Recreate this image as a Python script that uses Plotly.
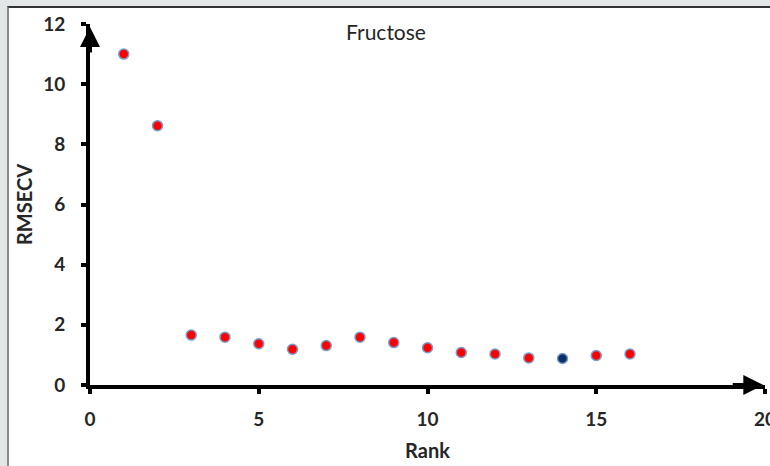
import plotly.graph_objects as go

rank = list(range(1, 17))
rmsecv = [11.0, 8.62, 1.66, 1.59, 1.37, 1.19, 1.31, 1.59, 1.41, 1.24, 1.08, 1.03, 0.90, 0.88, 0.98, 1.03]
selected_rank = 14

title_text = "Fructose"
x_title = "Rank"
y_title = "RMSECV"
x_ticks = [0, 5, 10, 15, 20]
y_ticks = [0, 2, 4, 6, 8, 10, 12]

colors = ["#0b2f6b" if r == selected_rank else "#ff0000" for r in rank]

fig = go.Figure()
fig.add_trace(go.Scatter(
    x=rank, y=rmsecv, mode="markers",
    marker=dict(size=10, color=colors, line=dict(color="#7a9ccc", width=1.5)),
    showlegend=False, cliponaxis=False,
))

font_fam = "Lato, Open Sans, sans-serif"
txt = "#262626"

# figure is placed at page offset (9, 8) by the frame border (see post_script)
OX, OY = 9, 8
W, H = 770 - OX, 466 - OY

fig.update_layout(
    width=W, height=H,
    margin=dict(l=90 - OX, r=5, t=24 - OY, b=81),
    paper_bgcolor="white", plot_bgcolor="white",
    title=dict(text=title_text, x=(386 - OX) / W, xanchor="center", xref="container",
               y=1 - (33 - OY) / H, yanchor="middle", yref="container",
               font=dict(family=font_fam, size=21, color=txt)),
    xaxis=dict(range=[0, 20], tickvals=x_ticks, showgrid=False, zeroline=False,
               showline=True, linecolor="black", linewidth=4, automargin=False,
               ticks="outside", ticklen=5, tickwidth=4, tickcolor="black",
               ticklabelstandoff=9, ticklabeloverflow="allow",
               tickfont=dict(family=font_fam, size=19, color=txt, weight="bold"),
               title=dict(text=x_title, standoff=16,
                          font=dict(family=font_fam, size=20, color=txt, weight="bold"))),
    yaxis=dict(range=[0, 12], tickvals=y_ticks, showgrid=False, zeroline=False,
               showline=True, linecolor="black", linewidth=4, automargin=False,
               ticks="outside", ticklen=5, tickwidth=4, tickcolor="black",
               ticklabelstandoff=12, ticklabeloverflow="allow",
               tickfont=dict(family=font_fam, size=19, color=txt, weight="bold"),
               title=dict(text=y_title, standoff=6,
                          font=dict(family=font_fam, size=20, color=txt, weight="bold"))),
)

# arrowheads
fig.add_annotation(x=19.95, y=0, ax=19.0, ay=0, xref="x", yref="y", axref="x", ayref="y",
                   showarrow=True, arrowhead=2, arrowsize=1, arrowwidth=4, arrowcolor="black", text="")
fig.add_annotation(x=0, y=11.9, ax=0, ay=11.0, xref="x", yref="y", axref="x", ayref="y",
                   showarrow=True, arrowhead=2, arrowsize=1, arrowwidth=4, arrowcolor="black", text="")

post = (
    "document.body.style.margin='0px';"
    "document.body.style.background='#e3e7e8';"
    "document.body.style.overflow='hidden';"
    "var d=document.getElementById('{plot_id}');"
    "d.style.borderLeft='2px solid #8a8a8a';"
    "d.style.borderTop='2px solid #333333';"
    "d.style.marginLeft='7px';"
    "d.style.marginTop='6px';"
    "d.style.background='white';"
)

fig.write_html("out.html", post_script=post, config={"displayModeBar": False})
